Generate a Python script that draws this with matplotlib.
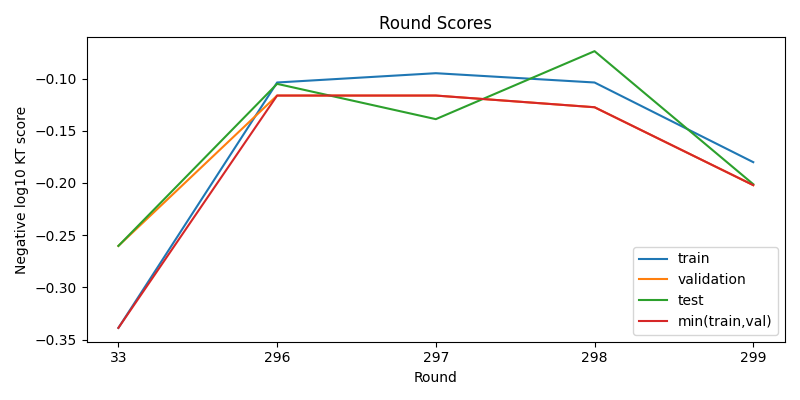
import matplotlib
matplotlib.use('Agg')
import matplotlib.pyplot as plt

rounds = ['33', '296', '297', '298', '299']
train = [-0.3388, -0.1038, -0.0949, -0.1038, -0.1801]
validation = [-0.2603, -0.1163, -0.1163, -0.1275, -0.2021]
test = [-0.2603, -0.1051, -0.1389, -0.0738, -0.2012]
min_train_val = [-0.3388, -0.1163, -0.1163, -0.1275, -0.2021]

fig, ax = plt.subplots(figsize=(8, 4), dpi=100)
ax.plot(rounds, train, label='train')
ax.plot(rounds, validation, label='validation')
ax.plot(rounds, test, label='test')
ax.plot(rounds, min_train_val, label='min(train,val)')
ax.set_title('Round Scores')
ax.set_xlabel('Round')
ax.set_ylabel('Negative log10 KT score')
ax.legend(loc='lower right')
plt.tight_layout()
plt.savefig('out.png')
